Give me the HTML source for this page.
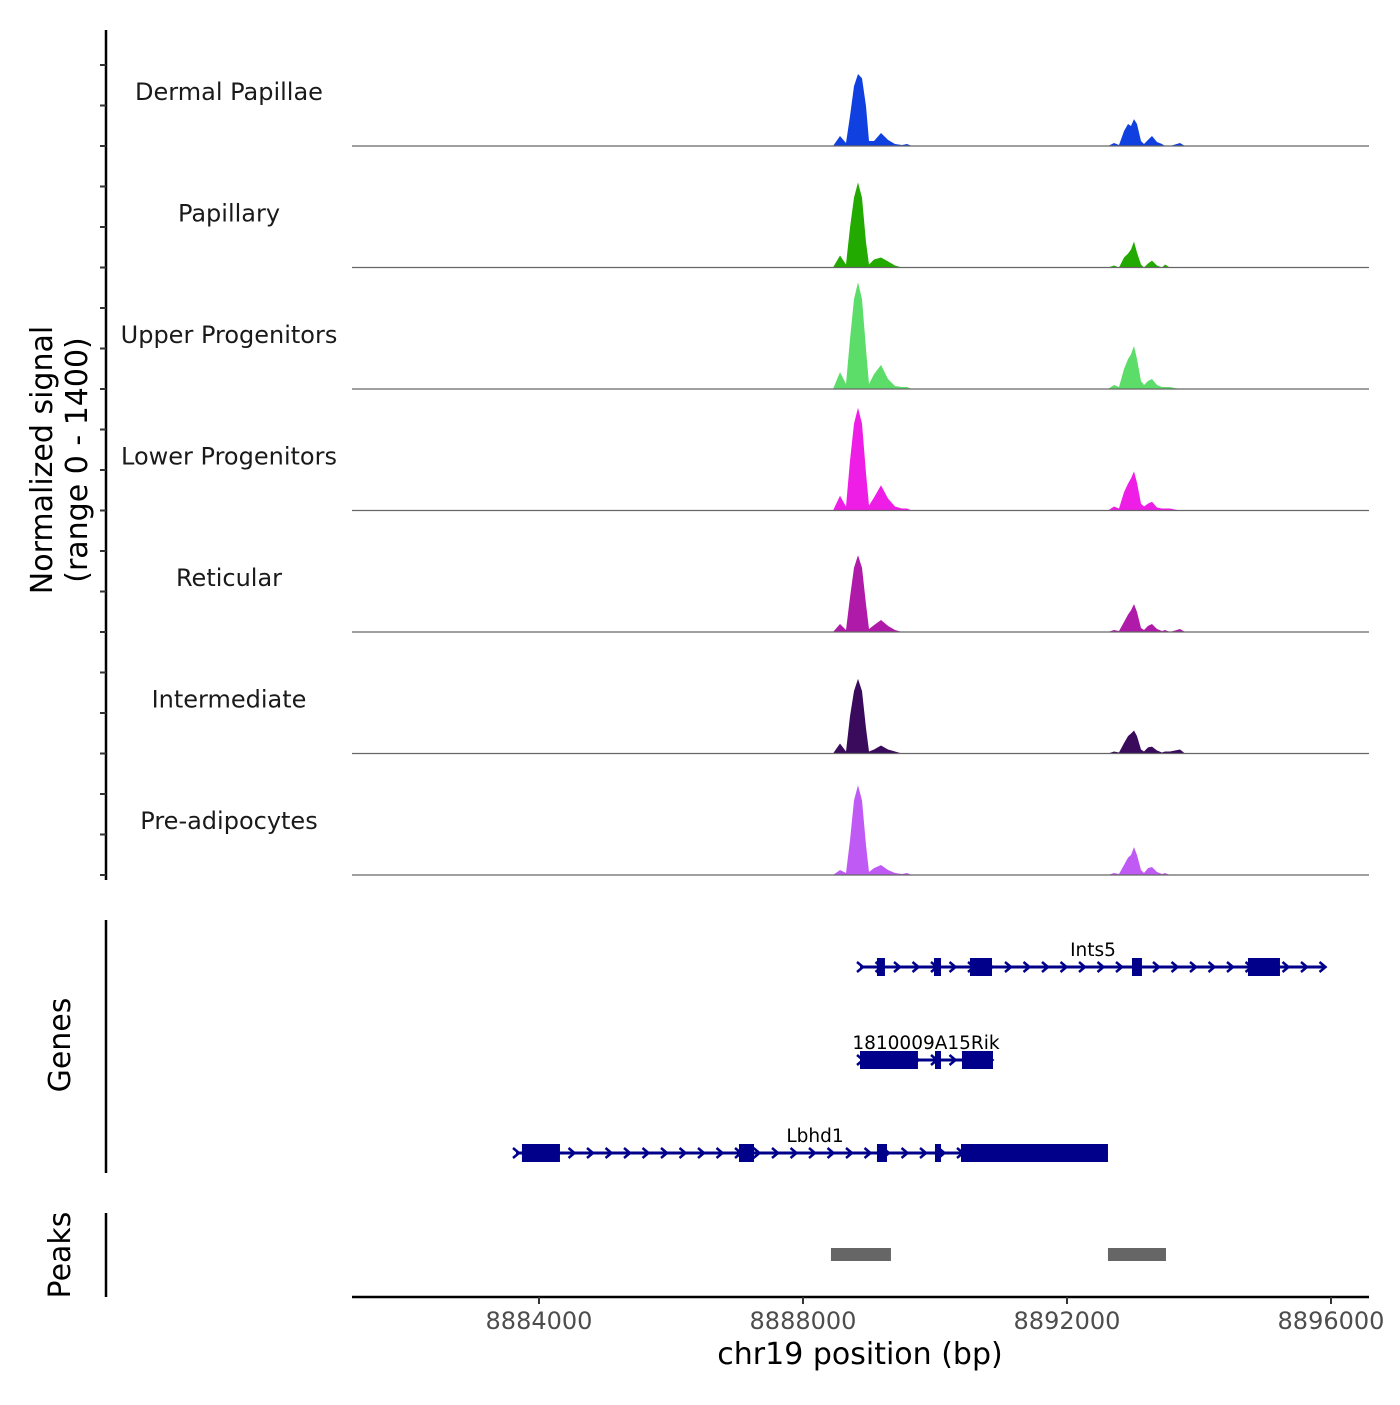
<!DOCTYPE html>
<html><head><meta charset="utf-8"><style>
body{margin:0;background:#fff}
svg text{font-family:"DejaVu Sans","Liberation Sans",sans-serif}
</style></head><body>
<svg id="c" width="1400" height="1400" xmlns="http://www.w3.org/2000/svg"></svg>
<script>
const positions=[8881167,8888455,8888561,8888652,8888712,8888773,8888833,8888894,8888955,8889000,8889076,8889182,8889288,8889394,8889500,8889576,8889652,8892621,8892712,8892788,8892864,8892924,8892970,8893015,8893061,8893121,8893167,8893227,8893288,8893364,8893439,8893485,8893561,8893712,8893788,8896576];
const trackNames=["Dermal Papillae","Papillary","Upper Progenitors","Lower Progenitors","Reticular","Intermediate","Pre-adipocytes"];
const trackColors=["#1140e0","#22aa00","#5cdc68","#ee1ee6","#b01aa8","#3a0a5c","#c05af5"];
const sigDermal=[0,0,115,35,345,690,830,780,460,58,58,150,70,23,12,23,0,0,35,12,172,253,230,310,253,58,23,70,115,46,23,0,0,35,0,0];
const sigPapillary=[0,0,138,35,460,805,980,805,290,35,92,115,70,23,0,0,0,0,23,0,115,160,207,300,172,35,0,46,80,23,0,35,0,0,0,0];
const sigUpper=[0,0,195,58,575,1035,1230,1035,460,58,170,276,115,35,23,23,0,0,46,23,230,345,400,495,345,92,46,92,115,46,23,23,23,0,0,0];
const sigLower=[0,0,170,46,575,1000,1185,1000,430,58,150,290,138,46,23,23,0,0,46,23,210,310,370,450,320,80,46,80,100,35,23,23,23,0,0,0];
const sigReticular=[0,0,92,23,400,740,885,740,320,35,80,138,70,23,0,0,0,0,23,12,115,200,250,322,230,46,23,70,92,35,12,23,0,35,0,0];
const sigIntermediate=[0,0,115,23,430,720,860,720,290,23,46,92,46,23,0,0,0,0,23,12,120,200,230,265,200,46,23,70,80,35,12,23,23,46,0,0];
const sigPreadipo=[0,0,58,23,400,860,1035,860,345,35,80,115,58,23,12,23,0,0,23,12,115,200,230,322,230,58,23,80,92,35,12,23,0,0,0,0];
const signals=[sigDermal,sigPapillary,sigUpper,sigLower,sigReticular,sigIntermediate,sigPreadipo];
const xTicks=[8884000,8888000,8892000,8896000];
const geneNames=["Ints5","1810009A15Rik","Lbhd1"];
const geneStarts=[8888864,8888864,8883652];
const geneEnds=[8895909,8890879,8892621];
const geneExonStarts=[[8889121,8889985,8890530,8892985,8894742],[8888864,8890000,8890409],[8883742,8887030,8889121,8890000,8890394]];
const geneExonEnds=[[8889242,8890091,8890864,8893136,8895227],[8889742,8890091,8890879],[8884318,8887258,8889273,8890091,8892621]];
const peakStarts=[8888424,8892621];
const peakEnds=[8889333,8893500];

const X0=352,X1=1369,BP0=8881167,BP1=8896576;
const xs=bp=>X0+(bp-BP0)/(BP1-BP0)*(X1-X0);
const trackH=121.5,firstBase=146,maxSig=1400;
const ys=(i,v)=>firstBase+i*trackH-v/maxSig*trackH;
const svg=document.getElementById('c');
const NS='http://www.w3.org/2000/svg';
function mk(tag,attrs,parent){const e=document.createElementNS(NS,tag);for(const k in attrs)e.setAttribute(k,attrs[k]);(parent||svg).appendChild(e);return e;}

let ya=mk('line',{x1:106,y1:30,x2:106,y2:880,stroke:'#000','stroke-width':2.5});


for(let i=0;i<7;i++){for(let j=0;j<3;j++){const y=firstBase+i*trackH-j*trackH/3;
 let t=mk('line',{x1:100,y1:y,x2:106,y2:y,stroke:'#333','stroke-width':2});
 
 }}
let yt=mk('text',{x:0,y:0,'font-size':30,'text-anchor':'middle',transform:'translate(52,460) rotate(-90)'});


yt.innerHTML='<tspan x="0" dy="0">Normalized signal</tspan><tspan x="0" dy="35">(range 0 - 1400)</tspan>';

for(let i=0;i<7;i++){
 const vals=signals[i];let d='M'+xs(positions[0])+','+ys(i,0);
 for(let k=0;k<positions.length;k++)d+='L'+xs(positions[k]).toFixed(1)+','+ys(i,vals[k]).toFixed(1);
 d+='L'+xs(positions[positions.length-1])+','+ys(i,0)+'Z';
 let p=mk('path',{d:d,fill:trackColors[i]});
 
 
 const by=firstBase+i*trackH;
 let b=mk('line',{x1:X0,y1:by,x2:X1,y2:by,stroke:'#666','stroke-width':1.2});
 
 
 let l=mk('text',{x:229,y:by-46,'font-size':24,'text-anchor':'middle',fill:'#1a1a1a'});
 l.textContent=trackNames[i];
 
 
}

let ga=mk('line',{x1:106,y1:920,x2:106,y2:1173,stroke:'#000','stroke-width':2.5});


let gt=mk('text',{x:0,y:0,'font-size':30,'text-anchor':'middle',transform:'translate(70,1045) rotate(-90)'});
gt.textContent='Genes';


const geneY=[967,1060,1153];
const navy='#00008b';
for(let g=0;g<3;g++){
 const y=geneY[g],x1=xs(geneStarts[g]),x2=xs(geneEnds[g]);
 let gr=mk('g',{});
 
 
 mk('line',{x1:x1,y1:y,x2:x2,y2:y,stroke:navy,'stroke-width':3},gr);
 for(let ax=x1;ax<=x2;ax+=18.5)mk('path',{d:`M${ax-3},${y-5}L${ax+3},${y}L${ax-3},${y+5}`,stroke:navy,'stroke-width':2.5,fill:'none'},gr);
 for(let e=0;e<geneExonStarts[g].length;e++){const a=xs(geneExonStarts[g][e]),b=xs(geneExonEnds[g][e]);
  mk('rect',{x:a,y:y-9,width:Math.max(b-a,4),height:18,fill:navy},gr);}
 let t=mk('text',{x:[1093,926,815][g],y:y-11,'font-size':18.5,'text-anchor':'middle',fill:'#000'});
 t.textContent=geneNames[g];
 
 
}

let pa=mk('line',{x1:106,y1:1213,x2:106,y2:1297,stroke:'#000','stroke-width':2.5});


let pt=mk('text',{x:0,y:0,'font-size':30,'text-anchor':'middle',transform:'translate(70,1255) rotate(-90)'});
pt.textContent='Peaks';


for(let k=0;k<peakStarts.length;k++){
 let r=mk('rect',{x:xs(peakStarts[k]),y:1248,width:xs(peakEnds[k])-xs(peakStarts[k]),height:13,fill:'#666'});
 
 
}

let xa=mk('line',{x1:X0,y1:1297,x2:X1,y2:1297,stroke:'#000','stroke-width':2.5});


for(const t of xTicks){const x=xs(t);
 let tk=mk('line',{x1:x,y1:1297,x2:x,y2:1304,stroke:'#333','stroke-width':2});
 
 
 let tl=mk('text',{x:x,y:1329,'font-size':24,'text-anchor':'middle',fill:'#4d4d4d'});
 tl.textContent=t;
 
 }
let xt=mk('text',{x:860,y:1364,'font-size':30,'text-anchor':'middle',fill:'#000'});
xt.textContent='chr19 position (bp)';


</script>
</body></html>
